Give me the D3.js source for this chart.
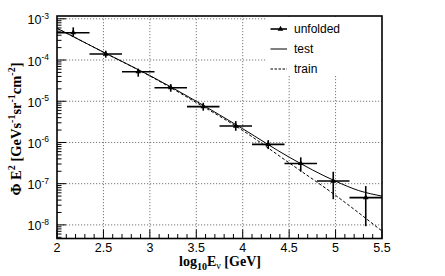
<!DOCTYPE html>
<html><head><meta charset="utf-8">
<script src="https://cdn.jsdelivr.net/npm/d3@7"></script>
<style>body{margin:0;background:#fff}svg{display:block}</style>
</head><body>
<svg id="c" width="445" height="276"></svg>
<script>
// ---- data ----
const binCenters = [2.175, 2.525, 2.875, 3.225, 3.575, 3.925, 4.275, 4.625, 4.975, 5.325];
const binHalfWidth = 0.175;
const unfolded   = [4.6e-4, 1.4e-4, 5.2e-5, 2.13e-5, 7.4e-6, 2.5e-6, 9.0e-7, 3.1e-7, 1.16e-7, 4.6e-8];
const unfoldedHi = [6.2e-4, 1.68e-4, 6.15e-5, 2.6e-5, 9.2e-6, 3.3e-6, 1.14e-6, 4.35e-7, 1.95e-7, 8.75e-8];
const unfoldedLo = [3.6e-4, 1.14e-4, 3.94e-5, 1.7e-5, 5.9e-6, 1.92e-6, 6.9e-7, 1.95e-7, 4.2e-8, 9.3e-9];
const testX  = [2.0, 2.5, 3.0, 3.5, 4.0, 4.5, 5.0, 5.25, 5.5];
const testY  = [5.9e-4, 1.55e-4, 4.2e-5, 1.0e-5, 2.15e-6, 4.4e-7, 1.15e-7, 6.8e-8, 5.0e-8];
const trainX = [2.0, 2.5, 3.0, 3.5, 4.0, 4.5, 5.0, 5.5];
const trainY = [5.9e-4, 1.55e-4, 4.1e-5, 9.3e-6, 1.95e-6, 3.2e-7, 5.2e-8, 7.1e-9];
const xTicks = [2, 2.5, 3, 3.5, 4, 4.5, 5, 5.5];
const xTickLabels = ["2", "2.5", "3", "3.5", "4", "4.5", "5", "5.5"];
const yTickExps = [-8, -7, -6, -5, -4, -3];
const xDomain = [2, 5.5];
const yDomain = [Math.pow(10, -8.33), Math.pow(10, -2.932)];
const legendLabels = ["unfolded", "test", "train"];

// ---- layout ----
const L = 57, R = 382, T = 16, B = 238.5;
const svg = d3.select("#c");
const x = d3.scaleLinear().domain(xDomain).range([L, R]);
const y = d3.scaleLog().domain(yDomain).range([B, T]);

// grid
const grid = svg.append("g").attr("stroke", "#555").attr("stroke-width", 0.8).attr("stroke-dasharray", "1.2,1.8");
xTicks.filter(v => v > xDomain[0] && v < xDomain[1]).forEach(v => {
  grid.append("line").attr("x1", x(v)).attr("x2", x(v)).attr("y1", T).attr("y2", B);
});
yTickExps.forEach(e => {
  const v = Math.pow(10, e);
  grid.append("line").attr("x1", L).attr("x2", R).attr("y1", y(v)).attr("y2", y(v));
});

// curves
const lineGen = d3.line().x(d => x(d[0])).y(d => y(d[1])).curve(d3.curveMonotoneX);
svg.append("clipPath").attr("id", "clp").append("rect")
  .attr("x", L).attr("y", T).attr("width", R - L).attr("height", B - T);
svg.append("path").datum(trainX.map((v, i) => [v, trainY[i]]))
  .attr("d", lineGen).attr("fill", "none").attr("stroke", "#000").attr("stroke-width", 1)
  .attr("stroke-dasharray", "3,2").attr("clip-path", "url(#clp)");
svg.append("path").datum(testX.map((v, i) => [v, testY[i]]))
  .attr("d", lineGen).attr("fill", "none").attr("stroke", "#000").attr("stroke-width", 1)
  .attr("clip-path", "url(#clp)");

// unfolded points with error bars
const pts = svg.append("g").attr("stroke", "#000").attr("stroke-width", 1.6);
binCenters.forEach((c, i) => {
  pts.append("line").attr("x1", x(c - binHalfWidth)).attr("x2", x(c + binHalfWidth))
    .attr("y1", y(unfolded[i])).attr("y2", y(unfolded[i]));
  pts.append("line").attr("x1", x(c)).attr("x2", x(c))
    .attr("y1", y(unfoldedHi[i])).attr("y2", y(unfoldedLo[i]));
});
const tri = d3.symbol().type(d3.symbolTriangle).size(14);
svg.append("g").selectAll("path").data(binCenters).join("path")
  .attr("d", tri).attr("transform", (c, i) => `translate(${x(c)},${y(unfolded[i])})`)
  .attr("fill", "#000");

// legend
const lg = svg.append("g");
lg.append("rect").attr("x", 266).attr("y", T + 1).attr("width", R - 267).attr("height", 59).attr("fill", "#fff");
const ly = [29, 49, 69];
legendLabels.forEach((lab, i) => {
  const ln = lg.append("line").attr("x1", 270.5).attr("x2", 287).attr("y1", ly[i]).attr("y2", ly[i])
    .attr("stroke", "#000").attr("stroke-width", i === 0 ? 1.6 : 1);
  if (i === 2) ln.attr("stroke-dasharray", "2.5,1.5");
  if (i === 0) lg.append("path").attr("d", tri).attr("transform", `translate(280.5,${ly[i]})`).attr("fill", "#000");
  lg.append("text").attr("x", 294).attr("y", ly[i] + 4.3).text(lab)
    .attr("font-family", "Liberation Sans, Arial, sans-serif").attr("font-size", 12);
});

// ticks
const tk = svg.append("g").attr("stroke", "#000").attr("stroke-width", 1);
d3.range(20, 56, 1).map(v => v / 10).forEach(v => {
  const major = Math.abs(v * 2 - Math.round(v * 2)) < 1e-6;
  tk.append("line").attr("x1", x(v)).attr("x2", x(v)).attr("y1", B).attr("y2", B - (major ? 9 : 4.5));
});
d3.range(-9, -2).forEach(e => {
  d3.range(1, 10).forEach(k => {
    const v = k * Math.pow(10, e);
    if (v < yDomain[0] || v > yDomain[1]) return;
    tk.append("line").attr("x1", L).attr("x2", L + (k === 1 ? 9 : 4.5)).attr("y1", y(v)).attr("y2", y(v));
  });
});

// frame
svg.append("rect").attr("x", L).attr("y", T).attr("width", R - L).attr("height", B - T)
  .attr("fill", "none").attr("stroke", "#000").attr("stroke-width", 1.6);

// tick labels
const sans = "Liberation Sans, Arial, sans-serif";
xTicks.forEach((v, i) => {
  svg.append("text").attr("x", x(v)).attr("y", 252).attr("text-anchor", "middle")
    .attr("font-family", sans).attr("font-size", 12.5).text(xTickLabels[i]);
});
yTickExps.forEach(e => {
  const t = svg.append("text").attr("x", 49).attr("y", y(Math.pow(10, e)) + 5.5).attr("text-anchor", "end")
    .attr("font-family", sans).attr("font-size", 12.5);
  t.append("tspan").text("10");
  t.append("tspan").attr("dy", -5.5).attr("font-size", 8.5).text(String(e));
});

// axis titles
const serif = "Liberation Serif, Times New Roman, serif";
const xt = svg.append("text").attr("x", 220).attr("y", 266).attr("text-anchor", "middle")
  .attr("font-family", serif).attr("font-weight", "bold").attr("font-size", 14);
xt.append("tspan").text("log");
xt.append("tspan").attr("dy", 4).attr("font-size", 10).text("10");
xt.append("tspan").attr("dy", -4).text("E");
xt.append("tspan").attr("dy", 3).attr("font-size", 10).attr("font-weight", "normal").text("ν");
xt.append("tspan").attr("dy", -3).text(" [GeV]");

const yt = svg.append("text").attr("transform", "translate(21,129) rotate(-90)").attr("text-anchor", "middle")
  .attr("font-family", serif).attr("font-weight", "bold").attr("font-size", 14.5);
yt.append("tspan").text("Φ E");
yt.append("tspan").attr("dy", -6).attr("font-size", 10).text("2");
yt.append("tspan").attr("dy", 6).text(" [GeVs");
yt.append("tspan").attr("dy", -6).attr("font-size", 10).text("-1");
yt.append("tspan").attr("dy", 6).text("sr");
yt.append("tspan").attr("dy", -6).attr("font-size", 10).text("-1");
yt.append("tspan").attr("dy", 6).text("cm");
yt.append("tspan").attr("dy", -6).attr("font-size", 10).text("-2");
yt.append("tspan").attr("dy", 6).text("]");
</script>
</body></html>
